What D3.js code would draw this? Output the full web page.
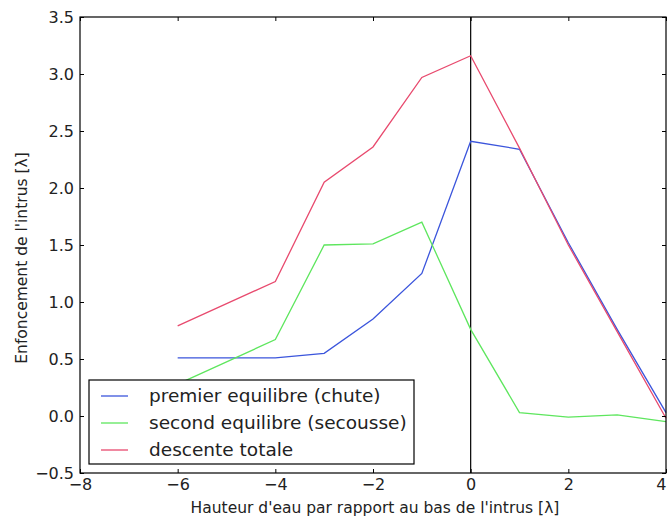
<!DOCTYPE html>
<html>
<head>
<meta charset="utf-8">
<script src="https://cdn.jsdelivr.net/npm/d3@7"></script>
<style>
  body { margin: 0; background: #fff; }
  text { font-family: "DejaVu Sans", sans-serif; fill: #222; }
</style>
</head>
<body>
<script>
// data
let xs = [-6, -4, -3, -2, -1, 0, 1, 2, 3, 4];
let premier = [0.51, 0.51, 0.55, 0.85, 1.25, 2.41, 2.34, 1.52, 0.76, 0.03];
let second = [0.28, 0.67, 1.50, 1.51, 1.70, 0.76, 0.03, -0.01, 0.01, -0.05];
let descente = [0.79, 1.18, 2.05, 2.36, 2.97, 3.16, 2.35, 1.50, 0.74, -0.02];
let xTicks = [-8, -6, -4, -2, 0, 2, 4];
let yTicks = [-0.5, 0.0, 0.5, 1.0, 1.5, 2.0, 2.5, 3.0, 3.5];

let series = [
  {name: "premier equilibre (chute)", values: premier, color: "#3b55dc"},
  {name: "second equilibre (secousse)", values: second, color: "#5ee65e"},
  {name: "descente totale", values: descente, color: "#e84a6e"}
];

let margin = {top: 17, right: 3, bottom: 45, left: 80},
    width = 669 - margin.left - margin.right,
    height = 518 - margin.top - margin.bottom;

let x = d3.scaleLinear().domain([-8, 4]).range([0, width]);
let y = d3.scaleLinear().domain([-0.5, 3.5]).range([height, 0]);

let svg = d3.select("body").append("svg")
    .attr("width", 669)
    .attr("height", 518)
    .append("g")
    .attr("transform", "translate(" + margin.left + "," + margin.top + ")");

// vertical line at x = 0
svg.append("line")
    .attr("x1", x(0)).attr("x2", x(0))
    .attr("y1", 0).attr("y2", height)
    .attr("stroke", "#000").attr("stroke-width", 1.2);

// the three series
let line = d3.line()
    .x(function(d, i) { return x(xs[i]); })
    .y(function(d) { return y(d); });

svg.selectAll(".serie")
    .data(series)
    .enter().append("path")
    .attr("class", "serie")
    .attr("fill", "none")
    .attr("stroke", function(d) { return d.color; })
    .attr("stroke-width", 1.3)
    .attr("d", function(d) { return line(d.values); });

// axes, ticks pointing inward like matplotlib
let fmtX = function(d) { return d < 0 ? "\u2212" + Math.abs(d) : d; };
let fmtY = function(d) { return d < 0 ? "\u2212" + Math.abs(d).toFixed(1) : d.toFixed(1); };

let xAxis = svg.append("g")
    .attr("transform", "translate(0," + height + ")")
    .call(d3.axisBottom(x).tickValues(xTicks).tickFormat(fmtX).tickSizeInner(-4).tickSizeOuter(0).tickPadding(6));
let xTop = svg.append("g")
    .call(d3.axisTop(x).tickValues(xTicks).tickFormat("").tickSizeInner(-4).tickSizeOuter(0));
let yAxis = svg.append("g")
    .call(d3.axisLeft(y).tickValues(yTicks).tickFormat(fmtY).tickSizeInner(-4).tickSizeOuter(0).tickPadding(6));
let yRight = svg.append("g")
    .attr("transform", "translate(" + width + ",0)")
    .call(d3.axisRight(y).tickValues(yTicks).tickFormat("").tickSizeInner(-4).tickSizeOuter(0));

[xAxis, xTop, yAxis, yRight].forEach(function(g) {
  g.select(".domain").remove();
  g.selectAll("line").attr("stroke", "#000");
  g.selectAll("text").style("font-size", "16px").attr("fill", "#222");
});
// last x label sits on the right edge, keep it inside the page
xAxis.selectAll("text").filter(function(d) { return d === 4; }).attr("text-anchor", "end");

// frame
svg.append("rect")
    .attr("width", width).attr("height", height)
    .attr("fill", "none").attr("stroke", "#000").attr("stroke-width", 1.2);

// axis titles
svg.append("text")
    .attr("x", width / 2 + 2).attr("y", height + 40)
    .attr("text-anchor", "middle")
    .style("font-size", "15.5px")
    .text("Hauteur d'eau par rapport au bas de l'intrus [\u03bb]");

svg.append("text")
    .attr("transform", "translate(" + (-53) + "," + (height / 2 + 13) + ") rotate(-90)")
    .attr("text-anchor", "middle")
    .style("font-size", "15.5px")
    .text("Enfoncement de l'intrus [\u03bb]");

// legend
let legend = svg.append("g")
    .attr("transform", "translate(" + 9 + "," + 363 + ")");
legend.append("rect")
    .attr("width", 325).attr("height", 84)
    .attr("fill", "#fff").attr("stroke", "#000").attr("stroke-width", 1.2);
let item = legend.selectAll(".item")
    .data(series)
    .enter().append("g")
    .attr("class", "item")
    .attr("transform", function(d, i) { return "translate(0," + (16 + i * 27) + ")"; });
item.append("line")
    .attr("x1", 12).attr("x2", 39)
    .attr("stroke", function(d) { return d.color; })
    .attr("stroke-width", 1.3);
item.append("text")
    .attr("x", 60).attr("dy", "0.35em")
    .style("font-size", "18.5px")
    .text(function(d) { return d.name; });
</script>
</body>
</html>
